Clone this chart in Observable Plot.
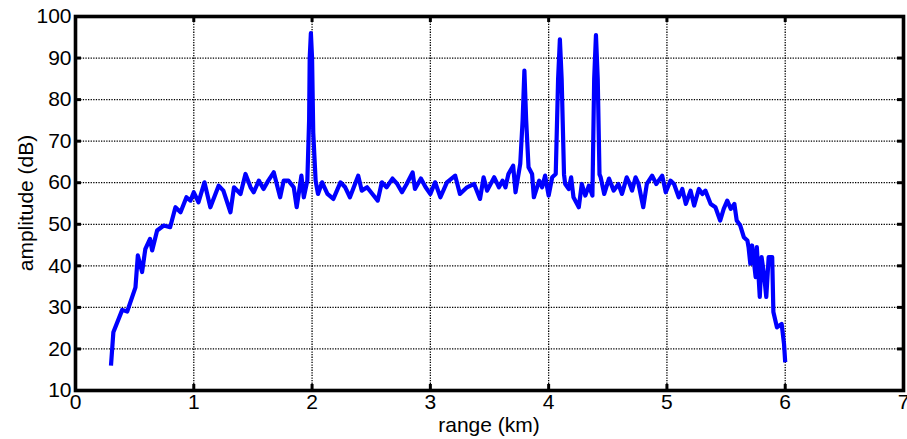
<!DOCTYPE html>
<html><head><meta charset="utf-8">
<script src="https://cdn.jsdelivr.net/npm/d3@7"></script>
<script src="https://cdn.jsdelivr.net/npm/@observablehq/plot@0.6"></script>
<style>body{margin:0;background:#fff} svg{display:block}</style>
</head><body><div id="chart"></div>
<script>
const rangeKm = [0.30,0.32,0.395,0.437,0.507,0.527,0.563,0.59,0.63,0.648,0.69,0.746,0.80,0.845,0.888,0.938,0.972,1.0,1.04,1.09,1.14,1.21,1.25,1.31,1.34,1.395,1.437,1.48,1.507,1.55,1.59,1.63,1.676,1.73,1.76,1.80,1.845,1.87,1.91,1.93,1.96,1.975,1.98,1.99,2.0,2.01,2.03,2.05,2.085,2.13,2.18,2.24,2.28,2.32,2.39,2.42,2.465,2.51,2.555,2.59,2.63,2.68,2.72,2.76,2.80,2.85,2.87,2.92,2.96,3.0,3.04,3.085,3.14,3.21,3.25,3.31,3.37,3.42,3.45,3.48,3.54,3.58,3.61,3.635,3.66,3.70,3.72,3.76,3.78,3.795,3.81,3.83,3.86,3.875,3.92,3.945,3.97,4.0,4.03,4.06,4.08,4.095,4.11,4.13,4.14,4.17,4.19,4.21,4.255,4.28,4.31,4.34,4.37,4.385,4.40,4.415,4.43,4.44,4.47,4.51,4.55,4.59,4.62,4.66,4.68,4.705,4.735,4.76,4.80,4.83,4.875,4.91,4.96,4.99,5.03,5.06,5.10,5.13,5.16,5.20,5.23,5.27,5.30,5.325,5.37,5.41,5.45,5.48,5.51,5.54,5.57,5.59,5.62,5.65,5.68,5.69,5.705,5.72,5.75,5.76,5.785,5.80,5.82,5.84,5.86,5.89,5.90,5.93,5.97,5.99,6.0];
const amplitudeDb = [16,24,29.4,29,34.8,42.5,38.5,44,46.5,43.7,48.5,49.7,49.3,54.1,52.9,56.5,55.7,57.7,55.3,60.1,54.1,59.3,58.1,52.9,58.9,57.3,62.1,58.9,57.7,60.5,58.5,60.5,62.5,56.5,60.5,60.5,58.9,54.1,61.7,56.5,60.5,75,90,96,90,72,60.5,57.3,60.1,57.3,56.1,60.1,58.9,56.5,61.7,58.1,58.9,57.3,55.7,60.1,58.9,61,59.7,57.7,59.7,62.5,58.5,61,58.9,57.3,60.1,56.5,60.1,61.7,57.3,58.9,59.7,56.1,61.3,58.1,61.3,58.9,60.5,58.9,62.1,64.1,57.7,64.6,75,87,75,63.7,62.1,56.5,60.5,58.9,61.7,56.9,61.3,62.1,85,94.5,85,62,59.7,58.5,61.3,56.5,54.1,59.7,56.9,59.3,56.9,85,95.5,85,62,61.3,57.3,61,58.1,59.7,57.3,61.3,60.1,58.1,61.3,59.7,54.1,59.7,61.7,59.7,61.7,57.7,60.5,59.7,56.5,58.5,54.9,58.1,54.5,58.5,57.3,58.1,54.9,54.1,50.9,53.7,55.7,53.7,54.9,50.9,49.7,46.9,46.1,44.5,40.5,44.9,37.3,44.5,32.5,42.1,38.1,32.5,42.1,42.1,28.9,25.2,26,21.2,16.8];
const xTicks = [0,1,2,3,4,5,6,7];
const yTicks = [10,20,30,40,50,60,70,80,90,100];
const xLabel = "range (km)";
const yLabel = "amplitude (dB)";

const data = rangeKm.map((x, i) => ({x, y: amplitudeDb[i]}));
const W = 907, H = 439, mL = 75, mR = 4, mT = 16, mB = 49;
const plotH = H - mT - mB, plotW = W - mL - mR;
const FONT = "'Liberation Sans', Arial, Helvetica, sans-serif";
const tickLen = 6;
const gridStyle = {stroke: "black", strokeOpacity: 1, strokeWidth: 1.3, strokeDasharray: "1.3,1.3"};

const chart = Plot.plot({
  width: W, height: H,
  marginLeft: mL, marginRight: mR, marginTop: mT, marginBottom: mB,
  style: {fontFamily: FONT, fontSize: "21px", color: "black", background: "white"},
  x: {domain: [0, 7]},
  y: {domain: [10, 100]},
  marks: [
    Plot.gridX(xTicks, gridStyle),
    Plot.gridY(yTicks, gridStyle),
    Plot.line(data, {x: "x", y: "y", stroke: "#0000ff", strokeWidth: 4.2, strokeLinejoin: "round", strokeLinecap: "butt"}),
    Plot.tickX(xTicks, {x: d => d, stroke: "black", strokeWidth: 3, insetTop: plotH - tickLen}),
    Plot.tickX(xTicks, {x: d => d, stroke: "black", strokeWidth: 3, insetBottom: plotH - tickLen}),
    Plot.tickY(yTicks, {y: d => d, stroke: "black", strokeWidth: 3, insetRight: plotW - tickLen}),
    Plot.tickY(yTicks, {y: d => d, stroke: "black", strokeWidth: 3, insetLeft: plotW - tickLen}),
    Plot.frame({stroke: "black", strokeWidth: 3.6}),
    Plot.axisX(xTicks, {tickSize: 0, tickPadding: 4, label: null, fontSize: 21, tickFormat: d => String(d)}),
    Plot.axisY(yTicks, {tickSize: 0, tickPadding: 4, label: null, fontSize: 21, tickFormat: d => String(d)})
  ]
});

const svg = d3.select(chart);
svg.append("text")
  .attr("x", mL + plotW / 2).attr("y", 432)
  .attr("text-anchor", "middle")
  .attr("font-family", FONT).attr("font-size", 21).attr("fill", "black")
  .text(xLabel);
svg.append("text")
  .attr("transform", `translate(33,${mT + plotH / 2}) rotate(-90)`)
  .attr("text-anchor", "middle")
  .attr("font-family", FONT).attr("font-size", 21).attr("fill", "black")
  .text(yLabel);

document.getElementById("chart").appendChild(chart);
</script>
</body></html>
